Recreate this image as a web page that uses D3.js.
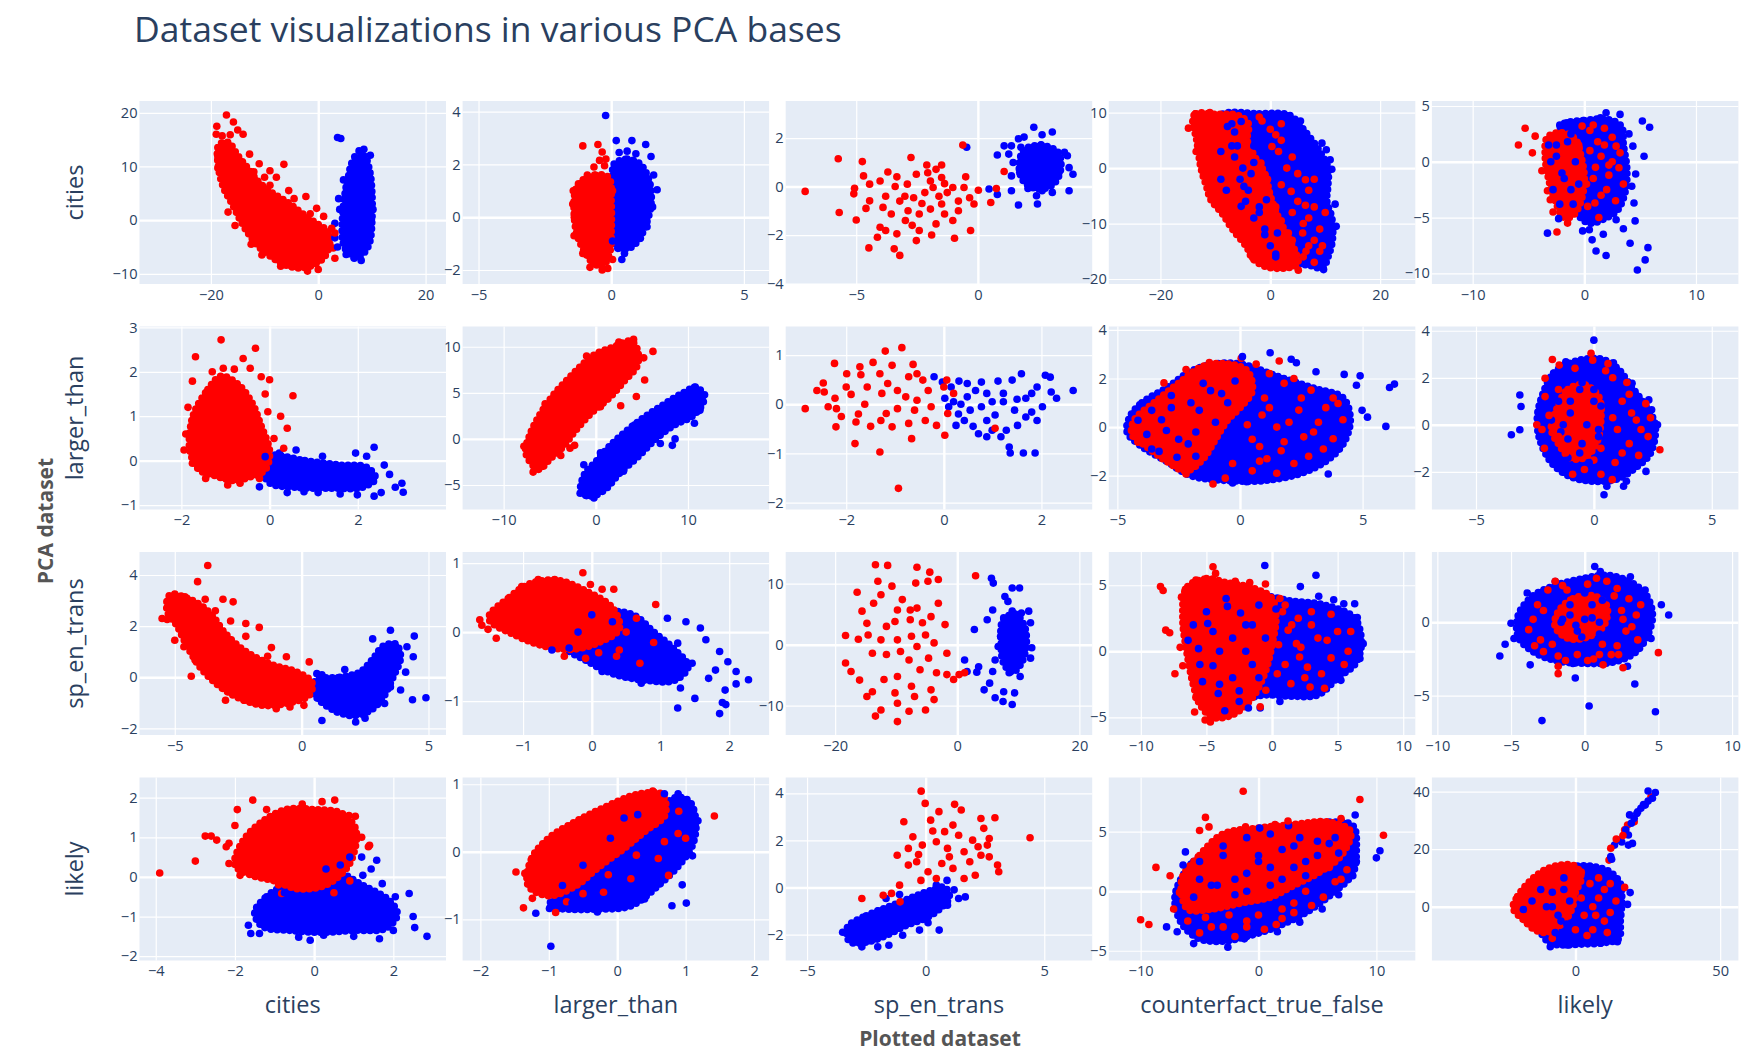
<!DOCTYPE html>
<html>
<head>
<meta charset="utf-8">
<script src="https://cdn.jsdelivr.net/npm/d3@7"></script>
<style>
  body { margin: 0; background: #fff; }
  text { font-family: "Open Sans", sans-serif; }
</style>
</head>
<body>
<script>
// plotted datasets (columns) and PCA bases (rows)
var plottedSets = ["cities", "larger_than", "sp_en_trans", "counterfact_true_false", "likely"];
var pcaSets = ["cities", "larger_than", "sp_en_trans", "likely"];

// axis ranges per panel, key = "p" + row + col
var xRange = {
  p00: [-33.3, 23.8], p01: [-5.6, 5.95], p02: [-7.9, 4.7], p03: [-29.4, 26.4], p04: [-13.65, 13.8],
  p10: [-2.95, 4.0], p11: [-14.45, 18.8], p12: [-3.24, 3.04], p13: [-5.35, 7.15], p14: [-6.87, 6.13],
  p20: [-6.39, 5.69], p21: [-1.88, 2.58], p22: [-28.1, 22.1], p23: [-12.44, 10.92], p24: [-10.37, 10.43],
  p30: [-4.41, 3.33], p31: [-2.26, 2.22], p32: [-5.9, 7.02], p33: [-12.7, 13.3], p34: [-49.6, 56.3]
};
var yRange = {
  p00: [-11.9, 22.2], p01: [-2.53, 4.4], p02: [-4.02, 3.53], p03: [-20.9, 12.1], p04: [-10.96, 5.45],
  p10: [-1.1, 3.02], p11: [-7.66, 12.2], p12: [-2.14, 1.58], p13: [-3.39, 4.14], p14: [-3.6, 4.18],
  p20: [-2.26, 4.9], p21: [-1.49, 1.16], p22: [-14.8, 15.2], p23: [-6.34, 7.52], p24: [-7.68, 4.79],
  p30: [-2.11, 2.51], p31: [-1.61, 1.1], p32: [-3.1, 4.67], p33: [-5.82, 9.55], p34: [-18.7, 44.9]
};

// tick values
var xTicks = {
  p00: [-20, 0, 20], p01: [-5, 0, 5], p02: [-5, 0], p03: [-20, 0, 20], p04: [-10, 0, 10],
  p10: [-2, 0, 2], p11: [-10, 0, 10], p12: [-2, 0, 2], p13: [-5, 0, 5], p14: [-5, 0, 5],
  p20: [-5, 0, 5], p21: [-1, 0, 1, 2], p22: [-20, 0, 20], p23: [-10, -5, 0, 5, 10], p24: [-10, -5, 0, 5, 10],
  p30: [-4, -2, 0, 2], p31: [-2, -1, 0, 1, 2], p32: [-5, 0, 5], p33: [-10, 0, 10], p34: [0, 50]
};
var yTicks = {
  p00: [-10, 0, 10, 20], p01: [-2, 0, 2, 4], p02: [-4, -2, 0, 2], p03: [-20, -10, 0, 10], p04: [-10, -5, 0, 5],
  p10: [-1, 0, 1, 2, 3], p11: [-5, 0, 5, 10], p12: [-2, -1, 0, 1], p13: [-2, 0, 2, 4], p14: [-2, 0, 2, 4],
  p20: [-2, 0, 2, 4], p21: [-1, 0, 1], p22: [-10, 0, 10], p23: [-5, 0, 5], p24: [-5, 0],
  p30: [-2, -1, 0, 1, 2], p31: [-1, 0, 1], p32: [-2, 0, 2, 4], p33: [-5, 0, 5], p34: [0, 20, 40]
};

// dense cores of each class
var redCores = {
  p00: [[-18.5,14],[-18.6,10],[-17.6,6],[-16,3],[-14.5,0],[-13,-2.5],[-11,-5],[-8.5,-7],[-6,-8.4],[-3.5,-8.9],[-1,-8.4],[1,-7],[2,-5],[2.2,-3],[1.5,-1.8],[0,-0.8],[-2,0.5],[-4,2],[-6,3.5],[-8.5,5],[-11,7],[-13,9.5],[-15,12],[-16.8,14.5]],
  p01: [[-1.2,1.3],[-0.6,1.6],[-0.1,1.5],[0,0.5],[0,-0.5],[-0.05,-1.3],[-0.3,-1.8],[-0.7,-1.7],[-1,-1.3],[-1.3,-0.6],[-1.4,0.3],[-1.35,1]],
  p03: [[-14.1,8.7],[-13.6,9.8],[-10,9.7],[-6,9.5],[-4,8],[-4.2,5],[-2.8,2],[-1,-1],[0,-5],[1.5,-9],[3,-12],[4.5,-15],[5,-17.3],[3,-18],[-0.7,-17.8],[-3.2,-16.3],[-4.3,-14.2],[-6.8,-11.1],[-8.8,-8.1],[-10.8,-5.7],[-11.6,-3.3],[-12.6,0],[-13.4,5.1]],
  p04: [[-3.3,2.2],[-2,2.6],[-0.8,2],[-0.3,0.5],[0,-1.5],[-0.3,-3.5],[-1,-4.8],[-1.8,-5],[-2.6,-3.5],[-3.2,-1.5],[-3.5,0.5]],
  p10: [[-1.7,1.1],[-1.4,1.6],[-1.1,1.9],[-0.7,1.7],[-0.4,1.3],[-0.2,0.8],[0,0.2],[-0.1,-0.2],[-0.4,-0.35],[-0.8,-0.45],[-1.2,-0.35],[-1.6,-0.2],[-1.8,0.2],[-1.8,0.7]],
  p11: [[-7.6,-1.5],[-6.2,-3.3],[-5,-2.2],[-3.5,-0.8],[-2.3,0.8],[-0.5,2.8],[1.5,4.5],[3,6.2],[4.5,8],[4.5,9.7],[3.8,10.6],[2,10],[0,9.2],[-1.5,8],[-3,6.5],[-4.8,4.5],[-6.3,2.2],[-7.2,0.3]],
  p13: [[-4.3,0.3],[-3.5,1],[-2.5,1.8],[-1.5,2.5],[-0.5,2.6],[0.3,2.3],[0.5,1.5],[0,0.8],[-0.5,0.3],[-1,-0.5],[-1.5,-1.3],[-2.2,-1.8],[-3,-1.4],[-3.8,-0.8],[-4.4,-0.3]],
  p14: [[-1.6,0.6],[-1.1,1.5],[-0.4,1.7],[0.2,1.2],[0.3,0.3],[0.1,-0.8],[-0.4,-1.4],[-1,-1.4],[-1.5,-0.8],[-1.8,-0.2]],
  p20: [[-5.2,3.2],[-4.3,3],[-3.6,2.5],[-3,1.7],[-2.2,1],[-1.2,0.5],[-0.2,0.2],[0.4,-0.2],[0.3,-0.7],[-0.5,-1],[-1.5,-1.1],[-2.5,-0.8],[-3.3,-0.3],[-4,0.4],[-4.5,1.2],[-4.9,2],[-5.3,2.6]],
  p21: [[-1.5,0.2],[-1.2,0.5],[-0.9,0.7],[-0.5,0.75],[-0.1,0.6],[0.3,0.35],[0.4,0.05],[0.1,-0.15],[-0.3,-0.25],[-0.7,-0.2],[-1.1,-0.05]],
  p23: [[-6.5,4.8],[-5,5.5],[-3.5,5.2],[-1.5,4.8],[0,4],[0.3,2.5],[0,0.5],[-0.5,-1.5],[-1.5,-3.5],[-3,-4.8],[-4.5,-5],[-5.5,-4],[-6,-2.5],[-6.5,0],[-6.8,2.5]],
  p24: [[-1.8,0.7],[-0.8,1.6],[0.6,1.8],[1.5,1.1],[1.3,-0.2],[0.2,-1],[-1.1,-1.1],[-2,-0.3]],
  p30: [[-2,0.3],[-1.8,0.9],[-1.3,1.4],[-0.7,1.7],[0,1.7],[0.7,1.6],[1.05,1.2],[1,0.6],[0.8,0.2],[0.3,-0.2],[-0.4,-0.3],[-1,-0.1],[-1.6,0.05]],
  p31: [[-1.3,-0.5],[-1.25,-0.1],[-1,0.2],[-0.6,0.45],[-0.2,0.65],[0.3,0.85],[0.65,0.85],[0.7,0.55],[0.4,0.3],[0.1,0.05],[-0.3,-0.25],[-0.6,-0.5],[-1,-0.65]],
  p33: [[-6.5,1],[-5,3],[-3,4.8],[0,5.3],[3,5.6],[6,5.8],[7.8,5],[7,3],[5,1.5],[3,0.5],[1,-0.5],[-1.5,-1],[-4,-1.5],[-6,-1.5]],
  p34: [[-21.5,-0.5],[-20,3.5],[-16,8.5],[-11,12.5],[-5,14.5],[0,14],[2,10],[0,5],[-1,0],[-3,-4],[-6,-7],[-10,-9],[-14,-8],[-18,-4.5]]
};
var blueCores = {
  p00: [[6.5,11],[8.5,12],[9.6,9],[10,5],[10,0],[9.6,-4],[8.6,-6],[7,-7],[5.5,-6],[4.6,-4],[4.5,0],[5,5],[5.6,8]],
  p01: [[0.1,2],[0.6,2.2],[1.1,2],[1.45,1.3],[1.5,0.5],[1.3,-0.3],[1,-0.9],[0.6,-1.2],[0.2,-1.1],[0,-0.5],[0,0.8],[0.05,1.6]],
  p02: [[1.9,1.5],[2.6,1.7],[3.3,1.4],[3.4,0.7],[3.1,0.1],[2.5,-0.1],[1.9,0.2],[1.7,0.8]],
  p03: [[-9,9.5],[-2,9.8],[3.5,9.5],[6,7],[9,3],[10.5,0],[10.5,-3],[10.3,-6],[11.2,-9],[11.3,-13],[10.5,-16],[9.5,-18],[7,-17.5],[4,-17],[1,-14],[-2,-10],[-5,-5],[-8,0],[-9.5,5]],
  p04: [[-2,3.3],[0,3.7],[2,3.8],[3.3,3.2],[3.5,1.5],[3.8,-0.5],[3.7,-2.5],[3,-4.3],[2,-5],[0.5,-5.5],[-0.5,-4.8],[-1,-3],[-1.8,0],[-2.2,2]],
  p10: [[0,0.1],[0.8,0],[1.6,-0.1],[2.2,-0.15],[2.4,-0.4],[2.1,-0.6],[1.4,-0.62],[0.6,-0.6],[0,-0.5],[-0.15,-0.2]],
  p11: [[-1.6,-5.8],[-0.5,-6.2],[1,-5.5],[2.5,-3.8],[4.5,-2],[6.5,0],[8.5,1.5],[10.5,2.5],[11.7,4.2],[11,5.6],[9.5,5],[7.5,3.8],[5.5,2.5],[3.5,1],[1.5,-0.8],[0,-2.5],[-1.2,-3.8]],
  p13: [[-4.5,0.4],[-4,1],[-3,1.6],[-2,2.3],[-1,2.6],[0,2.6],[1.5,2.1],[3,1.6],[4.2,1.2],[4.5,0.3],[4.2,-0.7],[3.5,-1.4],[2.5,-1.9],[1,-2.2],[-0.5,-2.2],[-2,-2],[-3,-1.4],[-4,-0.8],[-4.6,-0.2]],
  p14: [[-2.2,1.2],[-1.7,2.2],[-0.8,2.7],[0.3,2.8],[1,2.4],[1.6,1.6],[2.2,0.8],[2.6,0],[2.4,-1.2],[1.8,-1.8],[1,-2.3],[0,-2.4],[-1,-2.2],[-1.8,-1.6],[-2.3,-0.6],[-2.4,0.3]],
  p20: [[0.6,-0.1],[1.5,0],[2.3,0.2],[2.8,0.7],[3.2,1.2],[3.7,1.3],[3.9,0.8],[3.6,0],[3.2,-0.8],[2.7,-1.3],[2,-1.5],[1.3,-1.3],[0.7,-0.9],[0.4,-0.5]],
  p21: [[-0.3,0.2],[0.2,0.3],[0.6,0.25],[0.9,0],[1.2,-0.25],[1.4,-0.5],[1.2,-0.7],[0.8,-0.7],[0.3,-0.6],[-0.1,-0.4],[-0.4,-0.2]],
  p22: [[7.5,4],[9.5,5],[11,3],[11.3,0],[10.5,-3],[9,-4.5],[7.6,-3],[7.2,0]],
  p23: [[-3,3.5],[-1,4.2],[1.5,3.8],[4,3.5],[6.3,2.5],[6.8,0.5],[6.3,-1],[5,-2],[3.5,-3.3],[1.5,-3.4],[-0.5,-3.3],[-2,-3.5],[-3.5,-3],[-4,-1],[-4,1.5]],
  p24: [[-4.5,0.5],[-3.5,1.8],[-2,2.5],[0,3],[1.5,3.2],[3,2.8],[4.2,1.8],[4.6,0.5],[4.3,-0.8],[3.5,-2],[2,-2.7],[0,-2.8],[-2,-2.6],[-3.5,-2],[-4.5,-1]],
  p30: [[-1.5,-0.9],[-1.2,-0.5],[-0.7,-0.2],[0,-0.1],[0.6,0.1],[1.2,-0.2],[1.9,-0.6],[2.1,-0.95],[1.8,-1.3],[1,-1.35],[0.2,-1.4],[-0.6,-1.35],[-1.3,-1.25]],
  p31: [[-1,-0.8],[-0.6,-0.45],[-0.2,-0.1],[0.2,0.2],[0.5,0.5],[0.85,0.8],[1.05,0.75],[1.15,0.45],[1.1,0.1],[0.9,-0.2],[0.6,-0.5],[0.2,-0.8],[-0.3,-0.85],[-0.7,-0.85]],
  p32: [[-3.3,-1.7],[-2.5,-1.2],[-1.5,-0.8],[-0.5,-0.4],[0.3,-0.1],[0.8,0],[1,-0.4],[0.6,-0.9],[0,-1.3],[-0.8,-1.6],[-1.6,-2],[-2.4,-2.3],[-3.2,-2.3]],
  p33: [[-7,0],[-5.5,2.5],[-3,3.8],[0,4.5],[3,5.2],[6,5.8],[8,5.5],[8.3,3.5],[8,1.5],[6.5,0],[4,-1.8],[1.5,-3],[-1,-3.8],[-3,-4.2],[-5,-4],[-6.3,-3],[-7,-1.5]],
  p34: [[-14,-6],[-12,4],[-6,12],[0,14],[6,14],[12,12],[15.5,8],[16,2],[15.5,-5],[15,-11],[10,-12.5],[2,-13],[-5,-13.3],[-9,-12.5],[-12,-9]]
};

// individual points
var redPoints = {
  p00: [[-17.1,19.6],[-18.9,17.5],[-15.8,18.3],[-14,16],[-17.9,15.7],[-16.4,15.9],[-17.1,13.7],[-18.7,11.8],[-12.8,12.3],[-18.7,9.7],[-6.4,10.4],[-9,9.2],[-7.8,8],[-2.3,4.4],[-0.3,2.2],[1,0.7],[3.1,-2.4],[2.8,-5.2],[0,-9.2],[-3.1,-8.6],[3.1,-7.1],[-11,10.5],[-10,8],[-15,16.8],[-19,16],[-16,6],[-4.5,4],[-5.5,5.5],[-1.5,1.2],[-16.8,1.5],[-15.5,-1],[-12.5,-4.5],[-10.5,-6.5],[-7,-8.6],[-2,-9.5],[2.5,-1.5],[-9,6.5],[-12,9]],
  p01: [[-1.07,2.7],[-0.5,2.75],[-0.34,2.47],[-0.44,2.15],[-0.65,1.9],[-1.43,1],[-1.39,0],[-0.34,-2],[-0.13,-1.94],[-0.55,-1.81],[-1.07,-1.37],[-0.25,1.95],[-0.9,1.6],[-1.45,0.5],[-1.4,-0.7],[-0.2,2.2],[-0.8,-1.9],[0.05,-1.6],[0.05,1]],
  p02: [[-7.1,-0.2],[-5.74,1.15],[-4.75,1.03],[-5.7,-1.07],[-5,-1.38],[-4.48,-2.53],[-4.7,0.44],[-5.07,-0.07],[-5.1,-0.3],[-4.45,-0.59],[-4.6,-0.9],[-4.45,0.1],[-4.02,0.23],[-3.33,0.4],[-3.4,0],[-2.75,1.2],[-2.53,0.51],[-2.06,0.57],[-1.72,0.71],[-1.49,0.89],[-2.1,0.89],[-3.79,-0.4],[-3.21,-0.6],[-3.9,-0.86],[-3.56,-1.13],[-2.64,-0.46],[-2.18,-0.25],[-1.84,-0.04],[-1.37,0.12],[-1.03,-0.04],[-1.26,-0.25],[-0.57,-0.04],[0.02,-0.15],[-0.34,-0.46],[-0.8,-0.6],[-1.49,-0.72],[-1.95,-0.93],[-2.41,-1.13],[-2.87,-1],[-2.98,-1.4],[-3.79,-1.81],[-3.33,-1.95],[-2.53,-2.23],[-2.41,-1.81],[-1.72,-1.54],[-1.03,-1.4],[-1.37,-1.13],[-0.3,-1.81],[-0.96,-2.13],[-3.44,-2.57],[-3.21,-2.84],[-4.02,-1.68],[-4.13,-2.09],[-0.8,-1],[-0.16,-0.72],[0.53,-0.66],[-0.62,1.71],[1.08,0.62],[0.76,-0.08],[-1.49,0.37],[-1.95,0.23],[-2.9,0.1],[-3.7,0.6],[-2.3,-0.7],[-1.6,-0.4],[-0.5,0.4],[-2.7,-1.6],[-1.9,-2],[-3,-0.4]],
  p03: [[-13.6,9.8],[-14.9,7.2],[-12.1,-0.9],[-10.8,-3],[-3.2,-16.1],[3.3,-17.8],[5.1,-18.4],[0.3,3.9],[-1.7,0.9],[3.8,-4.2],[6.4,-6.7],[3.3,-11.7],[1.5,3],[6.4,-2.1],[5.9,-11.7],[-0.5,-2],[2,-3],[7,-9],[4,-8],[8,-13],[1,6],[-12,9.5],[-11,10],[-2,9.2],[-1.5,8.5],[6.5,-15],[9,-15],[2.5,-15.5],[-13.5,3],[-7,-9.8],[-5,-12.5],
        [2,5],[4,2],[5,-1],[7,-4],[8,-7],[6,-10],[9,-11],[7,-14],[3,0],[1,-7],[5,-6],[8,-2],[2,8],[0,7],[4,-13],[6,-16],[8,-17],[2,-9.5],[9.5,-14],[10,-8]],
  p04: [[-5.3,3],[-5.9,1.5],[-4.4,2.3],[-4.65,0.8],[-3.3,-2.6],[-3.05,-3.4],[-2.45,-6.3],[2.85,1.4],[3.1,-0.54],[0.95,-3.7],[0.5,2.8],[1.5,0.5],[0.8,-1.5],[2,-2.5],[1.2,1.8],[0.3,-4],[2.5,0],[1.8,3],[-0.2,3.2],[-1.5,-5.5],[-3.8,-0.8],[-2.8,-4.5],[1,-0.5],[2.2,-1.2],
        [0.5,1],[1.8,1.5],[2.5,2.2],[0.2,-2],[1.5,-3],[2.8,-3.5],[3.2,0.8],[0.8,3.3],[2.2,-0.3],[-0.5,1.5],[1.3,-5],[3.5,-2]],
  p10: [[-1.1,2.72],[-0.32,2.53],[-1.68,2.34],[-1.75,1.79],[-1.05,2.08],[-0.8,2.06],[-0.44,2.08],[-0.19,1.89],[0,1.82],[0.53,1.46],[0.4,0.73],[-0.04,1.1],[-1.94,0.24],[-1.75,-0.06],[-0.67,-0.51],[-0.23,-0.4],[0.32,0.28],[-1.3,2],[-0.6,2.3],[0.25,1],[0.1,0.5],[-1.9,0.6],[-0.95,-0.55],[-1.45,-0.4],[-1.85,1.2],[-0.1,1.5]],
  p11: [[6.2,9.5],[5.3,6.4],[4.4,4.6],[2.7,3.6],[-2.3,-0.7],[-2.8,-1],[4.1,10.8],[-6.8,-3.6],[-7.8,-0.8],[5.2,8.8],[-5.5,3.8],[-1,9],[0.5,3.5],[2.5,10.5],[-3.8,-1.8]],
  p12: [[-2.84,-0.09],[-2.47,0.43],[-2.45,0.25],[-2.23,0.12],[-2.24,0.83],[-2.6,0.28],[-2.37,-0.05],[-2.2,-0.09],[-2.21,-0.46],[-1.82,-0.8],[-1.8,-0.36],[-1.99,0.62],[-1.72,0.76],[-1.7,0.6],[-1.57,0.35],[-1.9,0.2],[-1.62,0],[-1.75,-0.2],[-1.5,-0.45],[-1.2,1.08],[-0.86,1.15],[-1.06,0.79],[-0.63,0.81],[-1.31,0.62],[-1.15,0.42],[-1.27,0.22],[-0.95,0.28],[-0.72,0.56],[-0.55,0.62],[-0.43,0.49],[-0.32,0.28],[-0.78,0.15],[-0.55,0.08],[-0.26,-0.05],[-0.6,-0.12],[-0.95,-0.09],[-1.18,-0.19],[-1.29,-0.33],[-1.06,-0.46],[-0.72,-0.39],[-0.38,-0.33],[-0.15,-0.43],[0.02,-0.63],[-0.66,-0.7],[-1.31,-0.97],[-0.93,-1.71],[0,0.35],[0.06,0.49],[0.2,0.22],[1.05,-0.49],[0.08,-0.19],[-2,0.35],[-2.1,-0.25],[-1.45,0.85]],
  p13: [[-4.3,-0.14],[-4.16,-0.62],[-3.1,1.82],[-2.2,2.37],[-1.25,2.66],[0.05,2.83],[0.66,2.59],[1.6,2.72],[-1.43,2],[-1.1,-2.34],[-2.2,-1.93],[4,0.97],[3.8,-0.48],[1.68,-0.97],[1.1,-1.3],[2.9,1.52],[2.4,0.7],[1.5,0],[0.8,-0.8],[0.5,-1.8],[2.2,-1.5],[3.2,0.2],[1,1.2],[0.3,0.1],[-0.3,-1.5],[-0.6,-2.1],[1.8,1.8],[3.4,-0.9],[0.9,0.5],[2.6,-0.4],
        [0.5,-0.5],[1.2,0.8],[2,0.2],[2.8,-1.2],[3.5,0.8],[1.5,-1.9],[0.2,1.6],[2.5,1.2],[4.2,0.3],[3.8,1.2],[0.8,-1.4],[1.8,-0.6],[2.2,2],[3,-0.2],[1.2,2.2]],
  p14: [[-0.12,3.04],[-0.05,2.75],[-1.76,2.78],[-1.47,2.54],[-2.07,1.98],[2.8,-1.06],[-2.42,0],[-2.07,1.2],[-0.4,-1.9],[0.78,-2.33],[1.2,1],[1.8,0.2],[1.5,-0.8],[0.9,-1.6],[0.8,2],[1.9,-1.3],[2.2,0.9],[1,-0.2],[-2.1,-1],[0.3,-2.1],[1.4,1.8],[2.3,-0.5],
        [-1.5,1.5],[-0.8,2.4],[0.5,2.3],[1.5,1.3],[2,-0.2],[1.2,-1.2],[0,-1.5],[-1.2,-1.2],[-1.9,0.4],[-0.5,0.8],[0.8,0.3],[-1.5,-0.5],[0.3,-1],[1.6,0.5],[-2.2,-0.2],[0.6,2.6],[-0.9,-2.1],[2.4,0.3]],
  p20: [[-3.7,4.37],[-4.1,3.74],[-5.5,2.3],[-5.3,2.26],[-5,3.25],[-4.6,3.15],[-3.8,3.05],[-3.1,3.05],[-2.7,2.95],[-2.2,2.1],[-1.67,1.95],[-1.19,1.16],[-1.34,0.82],[0.3,0.6],[-4.35,0.04],[-4.2,0.67],[-5,1.45],[-4.64,1.19],[-2.26,-0.9],[-1,-1.23],[-0.46,-1.16],[0.09,-1.1],[-2.8,2.2],[-3.4,2.6],[-2.2,1.6],[-0.6,0.8],[-3,-0.9],[-1.8,-1]],
  p21: [[-1.63,0.18],[-1.6,0.1],[-1.51,0.04],[-1.39,-0.09],[-1.02,0.66],[-0.78,0.76],[-0.54,0.76],[-0.13,0.86],[-0.02,0.69],[0.15,0.62],[0.32,0.62],[0.93,0.4],[0.4,-0.26],[0.36,-0.35],[-0.09,-0.38],[0.1,-0.3],[-0.82,-0.11],[-1.1,0.1],[0.65,0.2],[0.9,-0.15],[0.5,0],[0.7,-0.45],[-0.4,-0.35],[-1.3,0.35]],
  p22: [[-13.4,13.1],[-16.4,8.6],[-13.7,6.8],[-18.3,1.5],[-14.6,1.6],[-16.2,0.9],[-13.9,-1.4],[-18.3,-3],[-17.4,-4.4],[-16,-5.8],[-13.9,-7.7],[-14.8,-8.5],[-15.6,5.5],[-14.8,3.5],[-11.4,13],[-13,10.4],[-6.6,12.7],[-4.5,11.9],[-4.8,10.4],[-6.8,10.1],[-10.7,9.6],[-12.5,8.2],[-9,7.4],[-7.7,5.7],[-9.8,5.7],[-6.6,6],[-3.1,6.8],[-4.3,4.6],[-5.7,3.6],[-7.7,4.1],[-10.2,3.8],[-11.6,3],[-12.5,0.8],[-9.8,0.8],[-7.5,1.4],[-5.2,1.6],[-3.8,0.3],[-6.6,-0.3],[-9.3,-1.1],[-11.6,-1.6],[-7.9,-2.5],[-4.7,-2.2],[-1.7,-1.4],[-1.7,-4.9],[0.3,-4.9],[1.2,-4.6],[-0.6,-5.7],[-3.4,-4.6],[-6.1,-4.1],[-9.8,-5.2],[-12,-5.7],[-10.2,-7.9],[-7.5,-6.8],[-4.3,-7.4],[-3.8,-9],[-7,-8.5],[-9.8,-9.6],[-12.5,-10.7],[-7.9,-10.9],[-5.2,-10.7],[-13.4,-11.7],[-9.8,-12.6],[3,11.3],[-2,3.3],[-3.1,10.7]],
  p23: [[-8.5,4.9],[-8.3,4.6],[-6.6,4.7],[-6.9,4.1],[-5.8,5.4],[-4.5,6.4],[-4.3,5.9],[-2.8,5.3],[-1.7,5.2],[-0.5,5.1],[0.6,4],[0.8,3],[-8.1,1.6],[-7.8,1.4],[-7,0.3],[-6.8,-1.1],[-7.4,-1.7],[-5.8,-3.5],[-5.9,-4.6],[-4.7,-5.35],[-5.1,-5.2],[-3,-4.7],[-0.9,-4.2],[-0.13,1.34],[1.23,1.6],[1.86,0.58],[2.1,-0.43],[2.7,-1.2],[3.77,-1.7],[4.2,0.83],[0.4,-1.7],[1.44,-2.45],[2.9,-2.7],[-0.47,-2.95],[3,2],[5,1.5],[4.5,-0.5],[1,3.5],[5.8,0],
        [2,2.5],[3.5,1],[4.5,2.8],[5.5,-1],[2.5,-2],[1,-1],[1.5,2],[3,3],[0.5,0.5],[4,-2.8],[6,1.5],[2.2,0.3]],
  p24: [[-2.5,2.2],[-1.5,2.5],[0.8,3],[2.2,2.3],[3,1.6],[3.5,0.5],[2.8,-0.6],[2.2,-1.6],[1,-2.2],[-0.5,-2.2],[-1.8,-2.3],[-3,-1.2],[-3.5,0.2],[-1.8,-3],[-1.8,-3.5],[1.25,-2.9],[2.6,-3.1],[5,-2.07],[-0.3,0.5],[0.5,1],[1.2,0.2],[-1,-0.5],[2.5,0.8],[-3.2,1.2],[0.2,-2.6],[1.8,-2.2],[3.6,-1.2],[1.5,2.8],[-2.8,-2],[-2,2.8],
        [-3.8,-0.5],[-2.8,0.8],[-1.2,2.2],[0.2,2.6],[2,1.8],[3.2,-0.3],[2.3,-2.2],[0.6,-2.5],[-1.3,-2.6],[-3.4,-1.6],[3.8,1.2],[-0.5,1.5],[1.2,-1.5],[2.6,0.2],[-2.2,-1.5],[0.9,0.8]],
  p30: [[-3.9,0.1],[-3,0.4],[-2.75,1.03],[-2.6,1.03],[-2.46,0.93],[-2.22,0.76],[-2.15,0.85],[-1.94,1.7],[-1.55,1.94],[-0.3,1.84],[0.52,1.94],[1.04,1.53],[0.88,1.55],[1.37,0.76],[1.4,0.8],[-1.87,0.04],[-2.15,0.34],[-0.82,-0.42],[-0.9,-0.2],[0.5,-0.4],[0.9,-0.1],[-1.2,1.7],[0.2,1.9],[1.2,1],[-2,1.3]],
  p31: [[-1.48,-0.3],[-1.35,-0.32],[-1.37,-0.83],[-1.24,-0.69],[0.52,0.9],[1.42,0.53],[0.89,0.27],[0.69,0.15],[0.28,-0.05],[-0.13,-0.34],[-0.74,-0.74],[-0.5,-0.62],[0.6,-0.1],[0.9,0.6],[0.2,-0.4],[-0.2,-0.6],[0.45,0.6],[0.75,-0.35],[1,0.2],[-0.9,-0.9]],
  p32: [[-0.19,4.09],[-0.02,3.57],[1.22,3.53],[0.56,3.22],[1.5,3.29],[-0.92,2.79],[0.21,2.86],[1.15,2.65],[2.33,2.93],[2.92,2.96],[2.45,2.51],[2.68,2.08],[4.4,2.11],[-0.54,2.15],[-0.14,1.8],[0.45,1.94],[0.92,1.66],[1.39,2.22],[1.98,2.01],[1.62,1.52],[2.33,1.37],[2.68,1.3],[3.03,0.95],[3.08,0.67],[-1.2,1.37],[-0.73,0.95],[-0.38,1.09],[0.1,0.67],[0.68,1.02],[1.15,0.81],[2.09,0.52],[1.62,0.38],[0.45,0.38],[-1.1,0.1],[-1.44,-0.25],[-1.08,-0.61],[-1.79,-0.33],[-0.3,1.4],[0.8,2.37],[1.86,1.09],[2.21,1.73],[-0.73,1.66],[-2.69,-0.47],[0.3,2.4],[1,1.3],[2.6,1.8],[-0.2,0.3]],
  p33: [[-1.3,8.4],[8.6,7.7],[10.6,4.7],[-4.5,6.2],[-4.2,5.4],[-5,5.1],[-8.7,2],[-10,-2.4],[-9.3,-2.8],[-1.1,5.4],[1.4,5.6],[2.5,5.9],[3.7,5.4],[7,6.1],[-7.5,1.3],[-7.2,-1.5],[-6.7,-0.1],[-3,-3],[0,-2],[2,-1.5],[4,0],[6,2],[-5,-3.5],[-2,-3.8],[1.5,-2.8],[-4.5,-2.2],[5.5,-0.5],[7.5,1.8],[-1,-3],[3,-1],
        [-4,-3],[-1,-2.5],[2,-2.3],[4.5,-1.2],[6.5,0.8],[-6,-2.5],[0.5,-3.2],[-2.5,-2],[3,-1.8],[7,1]],
  p34: [[17,26.7],[18,28.4],[20.3,29.5],[12.2,20.3],[16.4,24.7],[14.1,23.5],[26.1,38.2],[17,6.7],[11.6,16.2],[5,8],[8,3],[3,-3],[6,-8],[10,6],[2,12],[-8,-11],[-13,-7],[12,-2],[-17.4,-4.1],[-13.5,-7.5],
        [6,0],[10,-5],[4,-10],[12,8],[8,10],[0,-8],[14,2],[7,-3],[2,3],[11,-9]]
};
var bluePoints = {
  p00: [[7.6,12.9],[9.7,12.1],[4.2,15.2],[3.6,15.4],[4.7,7.5],[3.1,-0.6],[3.1,-3.3],[6.7,-7.1],[5.2,-6.4],[9.9,4.4],[9.9,0.1],[9.3,-3.7],[8.5,13.2],[6.8,11.8],[3.8,4],[4,2],[10.2,2],[8,-7.5],[3.6,-5]],
  p01: [[-0.21,3.85],[0.19,2.9],[0.78,2.9],[1.3,2.75],[0.6,2.5],[0.93,2.4],[1.5,2.3],[1.73,1.04],[1.56,0.39],[1.35,-0.36],[0.5,-1.37],[0.25,-1.18],[1.6,1.6],[0.3,2.45],[1.1,-0.8],[0.05,-0.9],[0.4,-1.6]],
  p02: [[-0.46,1.62],[0.46,-0.1],[0.8,-0.33],[1.08,1.68],[1.38,1.68],[1.67,1.97],[1.9,2.04],[2.3,2.45],[2.64,2.14],[3.06,2.25],[2.6,1.72],[1.77,1.62],[1.27,1.34],[0.8,1.3],[1.45,0.99],[1.95,1.27],[2.41,1.41],[2.87,1.48],[3.22,1.34],[3.56,1.41],[3.68,1.27],[3.75,0.78],[3.91,0.51],[3.33,0.58],[2.99,0.99],[2.18,0.85],[1.72,0.58],[1.38,0.44],[2.06,0.23],[2.64,0.37],[3.1,0.23],[2.06,-0.08],[2.64,-0.17],[3.06,-0.24],[3.75,-0.17],[2.41,-0.38],[2.45,-0.72],[1.67,-0.76],[1.38,-0.17],[2.41,0.1],[2.76,0.71],[2.3,0.6]],
  p03: [[-5.3,8.4],[-4.8,-3.3],[-7.8,7.5],[-0.7,-5.7],[-5.3,-6.9],[1.3,-11.7],[9.4,4.5],[10.2,3.3],[10.9,1.5],[11.2,-0.2],[10.4,-1.8],[10.6,-9.3],[11.2,-11.7],[9.4,-17.8],[9.7,-18.3],[3.3,9.3],[1,9.5],[8.9,2.4],[-3,4],[-2,-8],[-6.5,2],[1,-15.5],[-1,-12],[-9,-2],[-7,4],[-3.5,-1],[5.5,8.5],[11.8,-6.5],[12,-10.5],
        [-7,8],[-6,4],[-5,0],[-4,-4],[-2,-7],[-1,-11],[0,-14],[-3,-9],[-5.5,-2],[-6.5,6.5],[-3,1],[-4.5,-6],[1,-16],[-8,-4],[-9,3],[-2,5]],
  p04: [[1.95,4.4],[1.45,3.95],[3.2,4.25],[-1.55,3.5],[-0.3,3.56],[5.2,3.65],[5.85,3.1],[4.35,1.4],[5.35,0.5],[4.6,-1.1],[4.25,-2.2],[4.45,-3.7],[4.55,-5.3],[4.1,-7.3],[5.7,-7.7],[5.45,-8.8],[4.75,-9.7],[1.95,-8.4],[1.05,-8],[0.7,-7],[0.45,-6.1],[1.7,-6.5],[-0.15,-6.2],[-3.3,-6.4],[-2.3,-5.1],[2.85,-5.2],[1.45,-4.6],[-2.5,1.5],[-1.8,-1.5],[-3,0],[-1.2,-2.5],[-2.2,3.3],[4,2.5],[3.5,-6],
        [-2.5,0.5],[-1.5,1.8],[-2.8,-2.5],[-1,-3.8],[-0.8,0],[-2,-1],[-3.2,1.5],[-1.2,2.5],[-0.5,-2],[-2.2,-3.8]],
  p10: [[2.37,0.3],[1.95,0.17],[2.72,-0.31],[3,-0.51],[3.03,-0.71],[2.53,-0.72],[2.37,-0.8],[1.99,-0.77],[0.78,-0.7],[-0.23,-0.59],[0.22,0.17],[0.6,0.24],[-0.1,0.09],[1.2,0.1],[2.6,-0.1],[1.6,-0.75],[1.1,-0.72],[2.85,-0.6],[0.4,-0.72],[2.2,0.1]],
  p11: [[10.7,1.7],[11.3,3.1],[8.3,-0.7],[8.6,0],[-1.1,-6.1],[-1.7,-5.9],[10.7,5.6],[-1.3,-2.8],[0.5,-1.5],[4.2,1.5],[11.8,4.8],[3,-3.5],[7,-0.5],[9.5,4],[-0.2,-6.4]],
  p12: [[-0.2,0.56],[-0.03,0.45],[0.15,0.35],[0.31,0.47],[0.48,0.42],[0.77,0.45],[1.11,0.47],[1.4,0.49],[1.59,0.62],[2.08,0.59],[2.18,0.55],[2.65,0.28],[2.31,0.12],[2.2,0.25],[1.91,0.35],[2.02,-0.05],[1.8,-0.16],[1.91,-0.33],[1.68,-0.26],[1.45,-0.12],[1.51,-0.43],[1.28,-0.53],[1.17,-0.66],[1.34,-0.87],[1.63,-0.99],[1.36,-0.99],[1.87,-0.99],[0.99,-0.53],[0.88,-0.33],[1.05,-0.22],[0.77,-0.05],[0.54,-0.12],[0.42,-0.33],[0.25,-0.43],[0.2,0.05],[0.02,0.12],[0.1,-0.05],[0.48,0.15],[0.65,0.28],[0.88,0.22],[1.22,0.22],[1.22,0.05],[0.99,0.05],[1.68,0.12],[1.8,0.22],[0.71,-0.6],[0.6,-0.45],[0.88,-0.66],[0.35,0],[1.5,0.1],[0.3,-0.2]],
  p13: [[1.23,3.06],[2.09,2.79],[2.3,2.65],[3.1,2.28],[4.25,2.17],[4.9,2.11],[4.75,1.72],[4.98,0.69],[5.2,0.41],[5.95,0.03],[6.1,1.63],[6.3,1.77],[3.6,-1.93],[0.27,-2.25],[-0.3,-2.3],[-4.16,0.28],[-3.6,0.69],[-3,-0.14],[-2.57,-1.24],[-1.2,-1.66],[-1.66,0.69],[-0.75,1.38],[-2.11,-0.69],[0.1,2.9],[-1.2,1.5],[-2.8,0.8],[-0.4,-0.8],[-3.6,-0.9],[-1.8,-0.2],[-0.2,1.9],
        [-3.2,0.3],[-2.5,-0.5],[-2,1],[-1,0.2],[-0.8,-1.2],[-1.5,1.8],[-3.8,-0.3],[-2.8,1.3],[-0.5,1],[-1.8,-1.2],[-0.2,-0.5],[0.2,0.5],[-3.3,-1]],
  p14: [[0,3.6],[0.83,2.64],[-3.14,1.27],[-3.09,0.78],[-3.5,-0.42],[-3.14,-0.21],[0.43,-2.97],[0.55,-2.61],[1.26,-2.61],[1.38,-2.4],[2.21,-1.98],[2.33,1.06],[2.45,0.64],[2.7,0],[1.62,1.77],[-1.19,2.68],[-1.71,2.19],[-1,0.5],[-0.5,-0.8],[0,1],[-1.4,-0.3],[-0.6,1.5],[-1.1,-1.4],[0.2,-0.2],[-1.8,0.2],[-0.2,2.2],
        [-1,1],[-0.3,0],[0,1.5],[-1.3,0],[-0.6,-1.2],[-1.5,1],[0.3,0.8],[-0.2,-1.6],[-1.1,-0.6],[-0.5,1.8],[0.2,-0.5]],
  p20: [[4.44,1.61],[3.5,1.84],[4.15,1.19],[4.4,0.8],[3.7,0.99],[4.9,-0.8],[4.37,-0.88],[0.8,-1.69],[2.13,-1.75],[1.4,-1.36],[3.5,-0.38],[3.27,-1.03],[0.6,0.14],[0.8,0.1],[2.8,1.5],[4.1,0.2],[2.5,-1.6],[1.7,0.3],[3.9,-0.5]],
  p21: [[1.37,0.15],[1.58,0.06],[1.86,-0.28],[1.98,-0.43],[2.1,-0.57],[2.28,-0.69],[1.94,-0.84],[1.9,-1.02],[1.95,-1.05],[1.86,-1.18],[1.5,-0.96],[1.29,-0.81],[1.25,-1.1],[1,-0.64],[0.72,-0.74],[0.55,-0.65],[0.15,-0.57],[1.25,-0.16],[1.05,-0.25],[1.66,-0.11],[1.46,-0.45],[1.7,-0.67],[-0.33,-0.23],[-0.58,-0.26],[2.1,-0.75],[1.8,-0.55],[0,0.25],[-0.2,0],[0.3,0.15],[1.1,0.2]],
  p22: [[5.6,10.9],[5.9,10.1],[9,9.3],[10.2,9.3],[7.8,7.9],[8.3,7.1],[5.8,5.7],[9,5.5],[10.5,5.2],[11.7,5.5],[7.6,4.4],[9.9,3.8],[12,3.6],[4.9,4.1],[2.8,2.5],[8.5,2.5],[10.5,1.6],[7.1,1.4],[12.2,-0.5],[9.3,0.5],[10.8,-1.4],[7.6,-1.6],[6.2,-2.5],[9.4,-3],[12,-2.2],[1.2,-2.5],[3.5,-3.6],[5.8,-4.4],[8.5,-4.6],[10.3,-5.2],[5.3,-6.3],[7.6,-7.7],[4.4,-7.4],[9.4,-7.9],[6.2,-8.7],[9,-9.8],[7.5,-9.3],[1.6,-4.4],[3.2,-4.5],[8,1],[10,-1],[11,1],[6.7,-0.3],[8.8,-2.2]],
  p23: [[-0.55,6.5],[3.35,5.76],[2.16,4.9],[3.56,4.17],[4.7,3.9],[5.47,3.6],[6.3,3.6],[6.5,2.55],[6.95,0.58],[6.7,-0.55],[5.25,-2.2],[5,-1.44],[3.56,-2.7],[2.1,-3.1],[0.6,-3.8],[-0.9,-4.3],[-1.8,-4.3],[-3.6,-4.5],[-4.1,-3.2],[-5.3,-2.3],[-4.5,-1.1],[-4.9,2.1],[-5.6,0.2],[-6.4,0.83],[-3.4,3.4],[-2.4,2.9],[1.23,3.7],[0.3,3.2],[-2,0],[-1,-2],[-3,1],[-1.5,2],[-4,-2.5],[-2.5,-3],
        [-5,3],[-4,0],[-3,-2],[-2,2],[-1,3.5],[-5.5,-1],[-3.5,4],[-2.5,-3.8],[-1.5,-1],[-4.5,1.5],[-6,2],[-0.5,1]],
  p24: [[-5.76,-2.3],[-5.4,-1.5],[-4.8,-1.1],[-5,-0.07],[-3.9,2],[-2,2.77],[0.68,3.8],[1.06,3.45],[3.1,3.1],[4.1,2.2],[5.2,1.2],[5.7,0.5],[4.5,-1.1],[2.9,-3],[-0.8,-2.8],[-3.7,-2.9],[-0.64,-3.8],[3.4,-4.2],[0.3,-5.7],[-2.9,-6.7],[4.8,-6.1],[-1,1.2],[0.5,0.3],[-0.2,-1],[1.2,1.5],[-1.5,0.2],[1,-0.8],[0,2],[2,0.5],[-0.6,-0.2],
        [-1,0.5],[0.5,1.2],[1,0],[-0.5,-0.6],[-1.6,0],[0,0.2]],
  p30: [[2.85,-1.5],[2.54,-1.28],[2.5,-1],[2.4,-0.42],[2.05,-0.5],[1.72,-0.17],[1.58,0.42],[1.44,0.2],[1.23,0.04],[0.66,0.3],[-1.66,-1.22],[-1.6,-1.43],[-1.38,-1.43],[-0.39,-1.52],[0.24,-1.47],[0.66,-1.3],[1.65,-1.56],[2,-1.35],[-1.31,-0.88],[-1.17,-0.63],[-0.75,-0.4],[0.9,0.5],[0.3,0.2],[1.2,0.5],[-0.1,-1.6],[1,-1.5]],
  p31: [[-0.97,-1.4],[-1.19,-0.91],[-0.99,-0.84],[-0.87,-0.84],[1.01,-0.76],[0.95,-0.49],[1.1,-0.06],[1.14,0.39],[1.18,0.46],[0.89,0.86],[0.69,0.86],[-0.29,-0.89],[-0.66,-0.76],[0.3,0.55],[-0.1,0.2],[-0.5,-0.2],[0.1,0.5],[0.55,0.2],[-0.8,-0.5],[0.8,-0.8],[0.4,-0.7]],
  p32: [[-3.29,-1.88],[-3.2,-2.1],[-2.69,-2.52],[-2.9,-1.53],[-2.44,-1.25],[-1.67,-0.47],[-1.44,-1.6],[-0.97,-2.03],[-0.26,-1.81],[0.57,-1.81],[0.92,-0.75],[1.39,-0.47],[1.67,-0.4],[0.21,-0.18],[0.45,0.1],[-0.2,-0.5],[-0.5,-1.2],[-0.73,-1.1],[-2.14,-2.17],[-2.02,-2.52],[-1.55,-2.45],[-3.5,-1.9],[-1.1,-0.3],[0.9,0.3],[1.2,-0.1],[-2,-1],[0.1,-1.5]],
  p33: [[10.3,3.4],[10,2.8],[8.2,6.4],[8.3,2.5],[0.1,5.3],[2.55,5.5],[-6.4,2.2],[-7.8,-3],[-6.9,-3.4],[-5.5,-4.4],[-2.6,-4.7],[-1.2,-4],[-3.5,-4.1],[1.6,-3.4],[3.5,-2.6],[5.4,-1.5],[6.8,-0.3],[8,1.3],[-5,2.5],[-6.2,3.3],[-3,3],[0,3],[3,3.8],[-2,1],[1,2],[4,2.5],[-4,0.5],[6,4],[-1,0],[2,1],
        [-5,1],[-3,3.8],[-1,4.5],[1,4.8],[3.5,4.5],[5,4.2],[6.5,4.5],[-3.5,0.5],[-1,1.5],[1,0.5],[3,2],[5,3],[-5.5,-0.5],[0,2.5],[2,3.5],[4,1.3],[6.8,3.2],[-2,-0.3]],
  p34: [[13.5,21.4],[15.4,23.2],[16,22.5],[18.3,24.9],[17.4,26.7],[19.3,29],[20.3,30.7],[18.7,31.9],[21.2,32.4],[22.6,34.2],[24.1,35.3],[25.1,36.7],[26.6,37.7],[25.1,40.2],[27.6,39.7],[21.5,33],[23.5,35.5],[19.7,22],[18.3,21.4],[12.2,17.4],[12.5,16.5],[18.9,4.9],[18,0.8],[-5,-5],[-8,0],[-4,6],[-2,-10],[14.5,-12.2],[8.7,-12.7],[-2.9,-13.3],[-8.7,-13.9],
        [-10,0],[-15,2],[-6,-3],[-12,6],[-4,10],[-8,5],[-2,2],[-18,-1],[-7,-9],[-3,-6]]
};

//figure geometry
var W = 1750, H = 1055;
var left0 = 139.5, colStep = 323.1, pw = 306.5;
var top0 = 101, rowStep = 225.5, ph = 183;
var dotR = 3.8;
var textColor = "#2a3f5f";
var colors = { red: "#ff0000", blue: "#0000ff" };

var svg = d3.select("body")
  .append("svg")
  .attr("width", W)
  .attr("height", H);

svg.append("rect").attr("width", W).attr("height", H).attr("fill", "#fff");

//draws one hull (dense core) with a dotted rim
function drawCore(g, pts, color, line){
  if (!pts) return;
  g.append("path")
    .datum(pts)
    .attr("d", line)
    .attr("fill", color)
    .attr("stroke", color)
    .attr("stroke-width", dotR * 2)
    .attr("stroke-linecap", "round")
    .attr("stroke-dasharray", "0 6.2");
}

pcaSets.forEach(function(rowName, r){
  plottedSets.forEach(function(colName, c){
    var key = "p" + r + c;
    var gx = left0 + c * colStep, gy = top0 + r * rowStep;
    var g = svg.append("g").attr("transform", "translate(" + gx + "," + gy + ")");

    var x = d3.scaleLinear().domain(xRange[key]).range([0, pw]);
    var y = d3.scaleLinear().domain(yRange[key]).range([ph, 0]);

    //plot background
    g.append("rect")
      .attr("width", pw)
      .attr("height", ph)
      .attr("fill", "#e5ecf6");

    //grid lines
    var gridX = g.append("g")
      .call(d3.axisBottom(x).tickValues(xTicks[key].filter(function(d){ return d !== 0; })).tickSize(ph).tickFormat(""));
    var gridY = g.append("g")
      .call(d3.axisRight(y).tickValues(yTicks[key].filter(function(d){ return d !== 0; })).tickSize(pw).tickFormat(""));
    [gridX, gridY].forEach(function(gr){
      gr.select(".domain").remove();
      gr.selectAll("line").attr("stroke", "#fff").attr("stroke-width", 1.2);
    });

    //zero lines
    var zx = d3.axisBottom(x).tickValues([0]).tickSize(ph).tickFormat("");
    var zy = d3.axisRight(y).tickValues([0]).tickSize(pw).tickFormat("");
    [g.append("g").call(zx), g.append("g").call(zy)].forEach(function(gr){
      gr.select(".domain").remove();
      gr.selectAll("line").attr("stroke", "#fff").attr("stroke-width", 2.4);
    });

    //clip the markers to the plot area
    g.append("clipPath").attr("id", "clip" + key)
      .append("rect").attr("width", pw).attr("height", ph);
    var plot = g.append("g").attr("clip-path", "url(#clip" + key + ")");

    var line = d3.line()
      .x(function(d){ return x(d[0]); })
      .y(function(d){ return y(d[1]); })
      .curve(d3.curveCatmullRomClosed.alpha(0.5));

    drawCore(plot, blueCores[key], colors.blue, line);
    drawCore(plot, redCores[key], colors.red, line);

    //interleave the two classes so neither sits fully on top
    var reds = redPoints[key] || [], blues = bluePoints[key] || [];
    var pts = [];
    for (var i = 0; i < Math.max(reds.length, blues.length); i++){
      if (blues[i]) pts.push({ v: blues[i], c: colors.blue });
      if (reds[i]) pts.push({ v: reds[i], c: colors.red });
    }
    plot.selectAll(".dot")
      .data(pts)
      .enter()
      .append("circle")
      .attr("class", "dot")
      .attr("cx", function(d){ return x(d.v[0]); })
      .attr("cy", function(d){ return y(d.v[1]); })
      .attr("r", dotR)
      .attr("fill", function(d){ return d.c; });

    //tick labels
    var ax = g.append("g")
      .attr("transform", "translate(0," + ph + ")")
      .call(d3.axisBottom(x).tickValues(xTicks[key]).tickSize(0).tickPadding(5.6).tickFormat(d3.format("d")));
    var ay = g.append("g")
      .call(d3.axisLeft(y).tickValues(yTicks[key]).tickSize(0).tickPadding(2).tickFormat(d3.format("d")));
    [ax, ay].forEach(function(a){
      a.select(".domain").remove();
      a.selectAll("text")
        .attr("fill", textColor)
        .style("font-size", "14.6px")
        .style("font-family", "'Open Sans', sans-serif");
    });
  });
});

//column titles under the grid
svg.selectAll(".colTitle")
  .data(plottedSets)
  .enter()
  .append("text")
  .attr("class", "colTitle")
  .attr("x", function(d, i){ return left0 + i * colStep + pw / 2; })
  .attr("y", 1013)
  .attr("text-anchor", "middle")
  .attr("fill", textColor)
  .style("font-size", "23.5px")
  .text(function(d){ return d; });

//row titles, rotated
svg.selectAll(".rowTitle")
  .data(pcaSets)
  .enter()
  .append("text")
  .attr("class", "rowTitle")
  .attr("transform", function(d, i){
    return "translate(83," + (top0 + i * rowStep + ph / 2) + ") rotate(-90)";
  })
  .attr("text-anchor", "middle")
  .attr("fill", textColor)
  .style("font-size", "23.5px")
  .text(function(d){ return d; });

//axis group titles
svg.append("text")
  .attr("x", 940)
  .attr("y", 1046)
  .attr("text-anchor", "middle")
  .attr("fill", "#555")
  .style("font-size", "21px")
  .style("font-weight", "bold")
  .text("Plotted dataset");

svg.append("text")
  .attr("transform", "translate(53,521) rotate(-90)")
  .attr("text-anchor", "middle")
  .attr("fill", "#555")
  .style("font-size", "21px")
  .style("font-weight", "bold")
  .text("PCA dataset");

//chart title
svg.append("text")
  .attr("x", 134)
  .attr("y", 42)
  .attr("fill", textColor)
  .style("font-size", "35.5px")
  .text("Dataset visualizations in various PCA bases");
</script>
</body>
</html>
